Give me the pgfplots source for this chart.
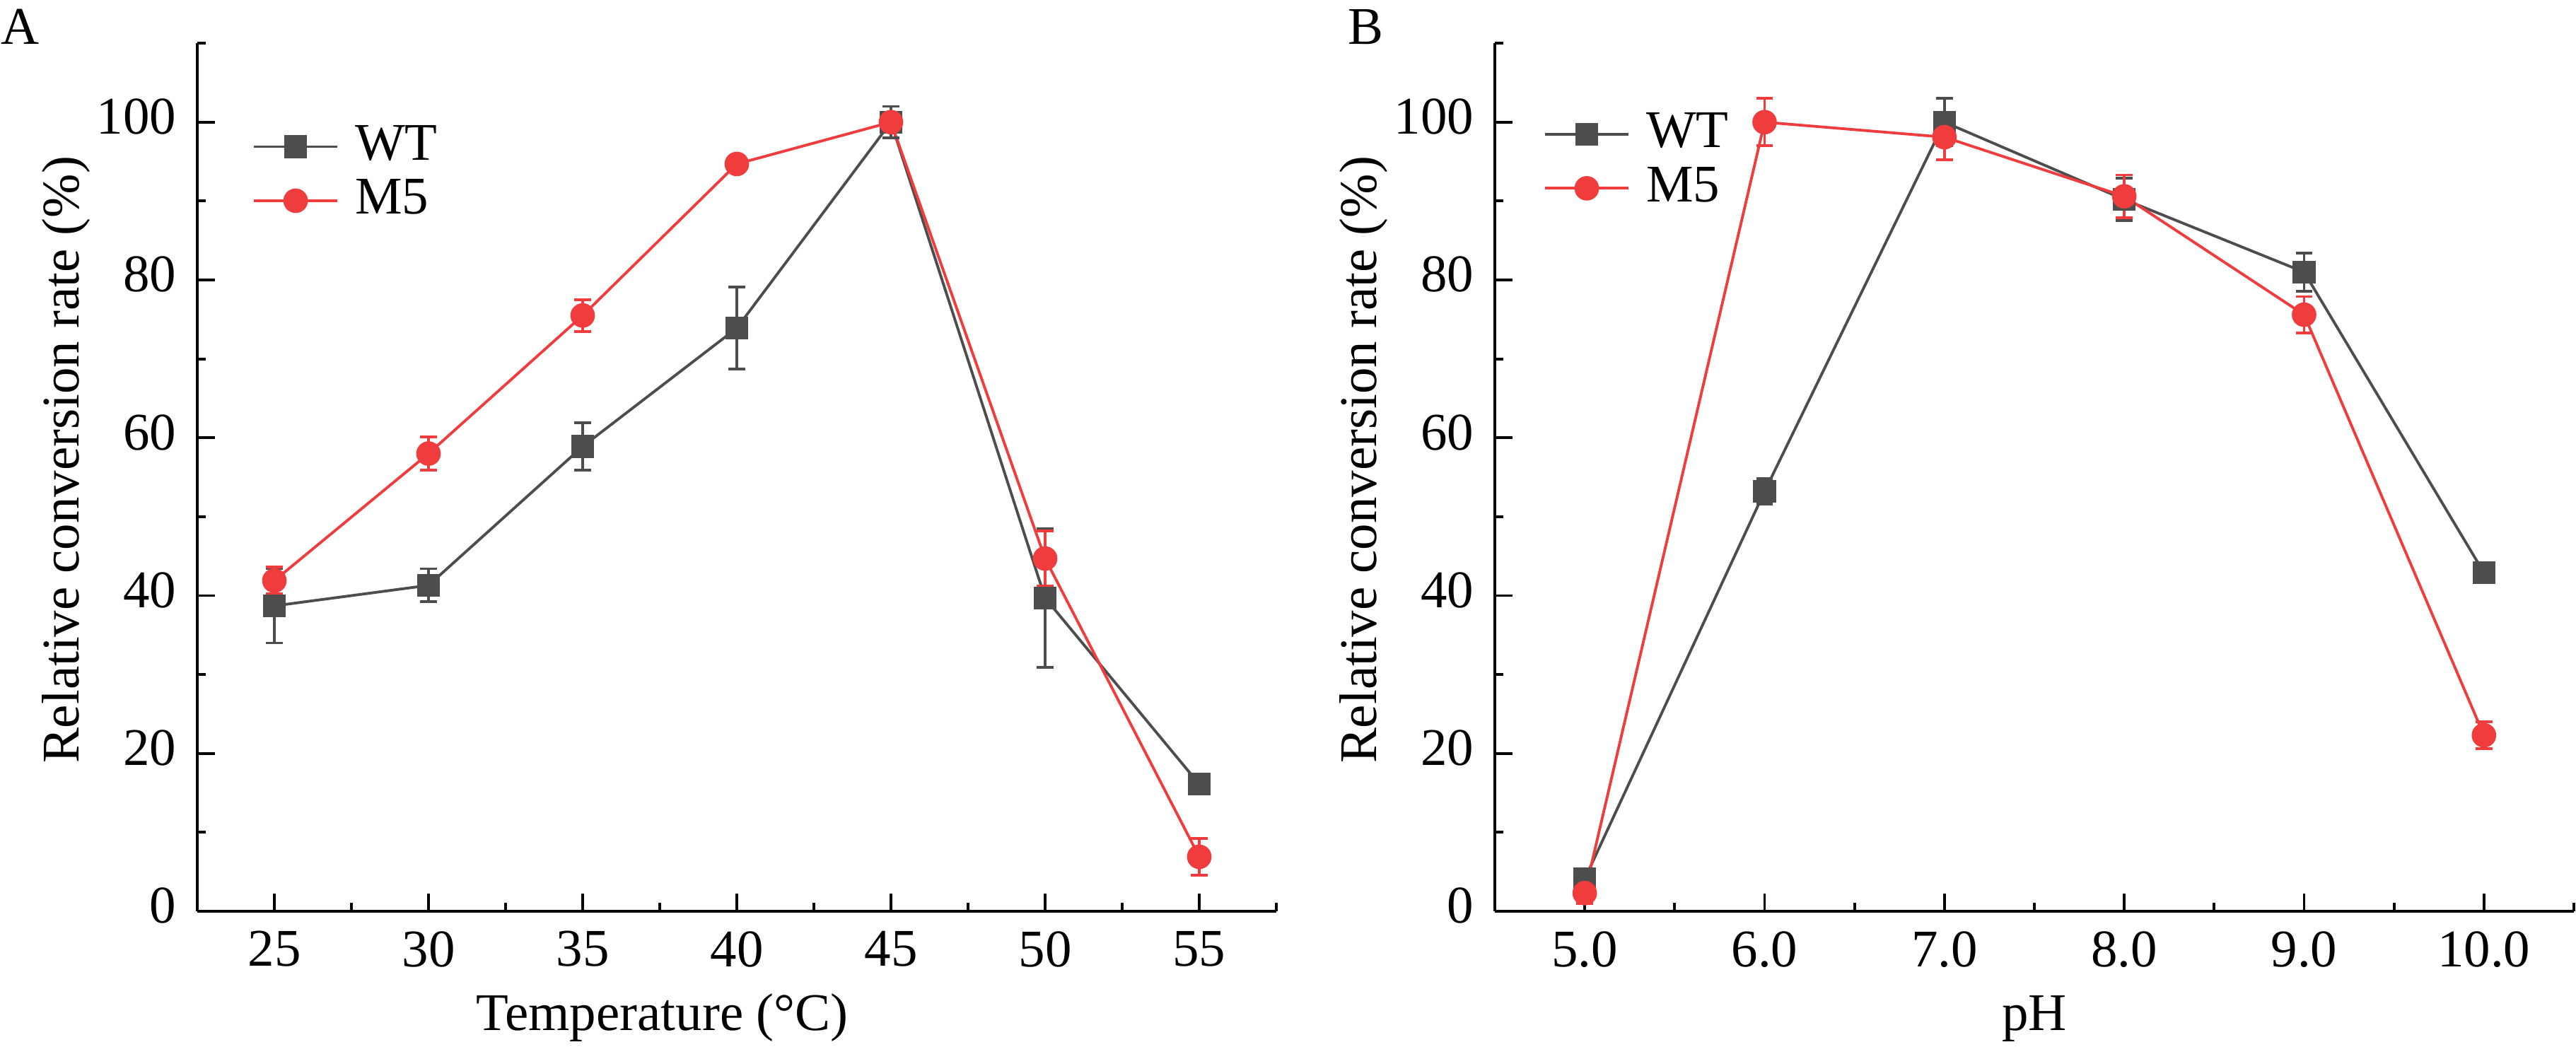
\documentclass[border=0pt]{standalone}
\usepackage{fontspec}
\setmainfont{Liberation Serif}
\usepackage{pgfplots}
\usepackage{pgfplotstable}
\pgfplotsset{compat=1.18}
\definecolor{wtcol}{RGB}{77,77,77}
\definecolor{mcol}{RGB}{240,60,60}

\pgfplotstableread{
x y e
25 38.7 4.7
30 41.3 2.1
35 58.9 3.0
40 73.9 5.2
45 100 2.0
50 39.7 8.8
55 16.1 0.6
}\AWT
\pgfplotstableread{
x y e
25 41.9 1.7
30 58.0 2.1
35 75.5 2.0
40 94.7 1.0
45 100 1.0
50 44.7 3.5
55 6.9 2.3
}\AMF
\pgfplotstableread{
x y e
5 4.1 1.1
6 53.2 1.6
7 100 3.0
8 90.2 2.7
9 81.0 2.4
10 42.9 0.6
}\BWT
\pgfplotstableread{
x y e
5 2.3 1.3
6 100 3.0
7 98.1 2.9
8 90.6 2.7
9 75.6 2.3
10 22.3 1.7
}\BMF

\pgfplotsset{
 myaxis/.style={
  scale only axis, width=218pt, height=175.4pt,
  ymin=0, ymax=110, ytick={0,20,...,100}, minor ytick={10,30,...,110},
  axis lines*=left, tick align=inside,
  axis line style={line width=0.55pt, black},
  major tick length=3.5pt, minor tick length=1.7pt,
  every tick/.style={black, line width=0.55pt},
  yticklabel={\pgfmathprintnumber[assume math mode=true]{\tick}},
  yticklabel style={anchor=east, inner sep=0pt, xshift=-4.1pt, yshift=1.1pt},
  xticklabel style={anchor=north, inner sep=0pt, yshift=-3.86pt},
  ylabel={Relative conversion rate (\%)},
  every axis y label/.style={at={([xshift=-23.9pt]rel axis cs:0,0.52)}, rotate=90, anchor=base, inner sep=0pt},
  legend style={draw=none, fill=none, inner sep=0pt, outer sep=0pt, row sep=2.3pt, column sep=3.3pt, nodes={inner sep=0pt, anchor=west}, anchor=north west},
  legend cell align=left,
  legend image code/.code={\draw[##1, mark repeat=2, mark phase=2] plot coordinates {(0pt,0pt)(8.45pt,0pt)(16.9pt,0pt)};},
  clip=false,
 },
 wt/.style={wtcol, line width=0.55pt, mark=square*, mark size=2.04pt, mark options={solid, fill=wtcol, draw=none}},
 m5/.style={mcol, line width=0.55pt, mark=*, mark size=2.2pt, mark options={solid, fill=mcol, draw=none}},
 wterr/.style={forget plot, draw=none, mark=none, error bars/.cd, y dir=both, y explicit, error bar style={draw=wtcol, line width=0.55pt, solid}, error mark=|, error mark options={draw=wtcol, mark size=1.68pt, line width=0.55pt}},
 m5err/.style={forget plot, draw=none, mark=none, error bars/.cd, y dir=both, y explicit, error bar style={draw=mcol, line width=0.55pt, solid}, error mark=|, error mark options={draw=mcol, mark size=1.68pt, line width=0.55pt}},
}

\begin{document}
\fontsize{10.7}{12.84}\selectfont
\begin{tikzpicture}
\useasboundingbox (0,0) rectangle (520.43pt,211.57pt);
\begin{axis}[myaxis, at={(39.86pt,27.43pt)}, anchor=south west,
  xmin=22.5, xmax=57.5, xtick={25,30,...,55}, minor xtick={22.5,27.5,...,57.5},
  xticklabel={\pgfmathprintnumber[assume math mode=true]{\tick}},
  xlabel={Temperature (°C)},
  every axis x label/.style={at={([yshift=-24.14pt]rel axis cs:0.431,0)}, anchor=base, inner sep=0pt},
  legend style={at={(rel axis cs:0.0511,0.9053)}}]
\addplot[wt] table[x=x,y=y] {\AWT};
\addlegendentry{WT}
\addplot[m5] table[x=x,y=y] {\AMF};
\addlegendentry{M5}
\addplot[wterr] table[x=x,y=y,y error=e] {\AWT};
\addplot[m5err] table[x=x,y=y,y error=e] {\AMF};
\end{axis}
\begin{axis}[myaxis, at={(302pt,27.43pt)}, anchor=south west,
  xmin=4.5, xmax=10.5, xtick={5,6,7,8,9,10}, minor xtick={4.5,5.5,...,10.5},
  xticklabels={5.0,6.0,7.0,8.0,9.0,10.0},
  xlabel={pH},
  every axis x label/.style={at={([yshift=-24.14pt]rel axis cs:0.5,0)}, anchor=base, inner sep=0pt},
  legend style={at={(rel axis cs:0.0452,0.9196)}}]
\addplot[wt] table[x=x,y=y] {\BWT};
\addlegendentry{WT}
\addplot[m5] table[x=x,y=y] {\BMF};
\addlegendentry{M5}
\addplot[wterr] table[x=x,y=y,y error=e] {\BWT};
\addplot[m5err] table[x=x,y=y,y error=e] {\BMF};
\end{axis}
\node[anchor=base west, inner sep=0pt] at (0pt,202.57pt) {A};
\node[anchor=base west, inner sep=0pt] at (272.1pt,202.57pt) {B};
\end{tikzpicture}
\end{document}
